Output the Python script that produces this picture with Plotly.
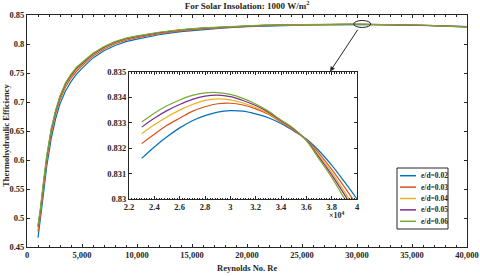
import plotly.graph_objects as go

# ---------------- data ----------------
reynolds = [1000, 1200, 1500, 1800, 2200, 2600, 3000, 3500, 4000, 4500, 5000,
            6000, 7000, 8000, 9000, 10000, 12000, 14000, 16000, 18000, 20000, 21500,
            23000, 24000, 25000, 26000, 27000, 28000, 29000, 30000, 31000, 32000,
            33000, 34000, 35000, 36000, 37000, 38000, 39000, 40000]

eff_002 = [0.466, 0.493, 0.542, 0.590, 0.637, 0.671, 0.697, 0.719, 0.735, 0.748, 0.7580,
           0.7760, 0.7885, 0.7975, 0.8040, 0.8085, 0.8160, 0.8212, 0.8250, 0.8278, 0.8298, 0.8309,
           0.83160, 0.83205, 0.83245, 0.83280, 0.83308, 0.83328, 0.83342, 0.83348, 0.83346, 0.83335,
           0.83320, 0.83297, 0.83268, 0.83236, 0.83190, 0.83133, 0.83068, 0.83000]
eff_003 = [0.477, 0.503, 0.552, 0.599, 0.645, 0.679, 0.704, 0.726, 0.741, 0.753, 0.7625,
           0.7795, 0.7915, 0.8005, 0.8068, 0.8110, 0.8178, 0.8227, 0.8262, 0.8287, 0.8305, 0.8315,
           0.83218, 0.83255, 0.83290, 0.83318, 0.83345, 0.83363, 0.83375, 0.83377, 0.83370, 0.83355,
           0.83334, 0.83302, 0.83271, 0.83234, 0.83180, 0.83117, 0.83048, 0.82975]
eff_004 = [0.482, 0.508, 0.557, 0.603, 0.649, 0.682, 0.707, 0.729, 0.744, 0.756, 0.7650,
           0.7815, 0.7935, 0.8022, 0.8083, 0.8125, 0.8190, 0.8237, 0.8270, 0.8293, 0.8310, 0.8320,
           0.83257, 0.83292, 0.83323, 0.83350, 0.83372, 0.83388, 0.83394, 0.83390, 0.83378, 0.83360,
           0.83337, 0.83305, 0.83274, 0.83233, 0.83172, 0.83105, 0.83030, 0.82950]
eff_005 = [0.485, 0.511, 0.560, 0.606, 0.651, 0.684, 0.709, 0.731, 0.746, 0.758, 0.7665,
           0.7828, 0.7945, 0.8032, 0.8092, 0.8133, 0.8197, 0.8243, 0.8275, 0.8297, 0.8313, 0.8323,
           0.83283, 0.83318, 0.83348, 0.83372, 0.83392, 0.83405, 0.83409, 0.83403, 0.83388, 0.83368,
           0.83342, 0.83308, 0.83276, 0.83232, 0.83165, 0.83095, 0.83018, 0.82935]
eff_006 = [0.488, 0.514, 0.563, 0.609, 0.654, 0.686, 0.711, 0.733, 0.748, 0.760, 0.7680,
           0.7840, 0.7955, 0.8040, 0.8100, 0.8140, 0.8203, 0.8248, 0.8279, 0.8300, 0.8316, 0.8325,
           0.83303, 0.83338, 0.83367, 0.83390, 0.83408, 0.83418, 0.83419, 0.83412, 0.83396, 0.83374,
           0.83346, 0.83311, 0.83278, 0.83230, 0.83158, 0.83085, 0.83003, 0.82920]

series_names = ["e/d=0.02", "e/d=0.03", "e/d=0.04", "e/d=0.05", "e/d=0.06"]
series_values = [eff_002, eff_003, eff_004, eff_005, eff_006]
series_colors = ["#0072BD", "#D95319", "#EDB120", "#7E2F8E", "#77AC30"]

inset_start_re = 23000
inset_tick_labels = ["2.2", "2.4", "2.6", "2.8", "3", "3.2", "3.4", "3.6", "3.8", "4"]

# ---------------- figure ----------------
FONT = "Liberation Serif"
W, H = 480, 277
ML, MR, MT, MB = 27, 13, 15, 30
PW, PH = W - ML - MR, H - MT - MB


def px_x(p):
    return (p - ML) / PW


def px_y(p):
    return (H - MB - p) / PH


fig = go.Figure()
i0 = reynolds.index(inset_start_re)
for name, vals, col in zip(series_names, series_values, series_colors):
    fig.add_trace(go.Scatter(x=reynolds, y=vals, mode="lines", name=name,
                             line=dict(color=col, width=1.2), showlegend=False,
                             xaxis="x", yaxis="y"))
for name, vals, col in zip(series_names, series_values, series_colors):
    fig.add_trace(go.Scatter(x=reynolds[i0:], y=vals[i0:], mode="lines", name=name,
                             line=dict(color=col, width=1.2, shape="spline"),
                             showlegend=False, xaxis="x2", yaxis="y2"))

axis_common = dict(showline=True, linecolor="#262626", linewidth=1, mirror="ticks",
                   ticks="inside", tickcolor="#262626", showgrid=False, zeroline=False,
                   automargin=False,
                   tickfont=dict(family=FONT, size=8.5, color="#262626", weight="bold"))

inset_tickvals = [float(t) * 1e4 for t in inset_tick_labels]

fig.update_layout(
    width=W, height=H,
    margin=dict(l=ML, r=MR, t=MT, b=MB),
    paper_bgcolor="white", plot_bgcolor="white",
    font=dict(family=FONT, color="#262626", weight="bold"),
    title=dict(text="For Solar Insolation: 1000 W/m<sup>2</sup>", x=px_x(247), xref="paper",
               xanchor="center", y=1 - 6 / H, yref="container", yanchor="middle",
               font=dict(family=FONT, size=9, color="#262626", weight="bold")),
    xaxis=dict(axis_common, range=[0, 40000], dtick=5000, tick0=0, tickformat=",",
               ticklen=3, domain=[0, 1],
               minor=dict(dtick=1000, ticks="inside", ticklen=2, tickcolor="#262626")),
    yaxis=dict(axis_common, range=[0.45, 0.85], dtick=0.05, tick0=0.45, ticklen=3,
               domain=[0, 1]),
    xaxis2=dict(axis_common, range=[22000, 40000], tickvals=inset_tickvals,
                ticktext=inset_tick_labels, ticklen=3, anchor="y2",
                domain=[px_x(129), px_x(357)],
                minor=dict(dtick=200, ticks="inside", ticklen=1.5, tickcolor="#262626")),
    yaxis2=dict(axis_common, range=[0.83, 0.835], dtick=0.001, tick0=0.83, ticklen=3,
                anchor="x2", domain=[px_y(199), px_y(72)]),
)

# axis titles
fig.add_annotation(x=px_x(247), y=px_y(268), xref="paper", yref="paper",
                   text="Reynolds No. Re", showarrow=False, xanchor="center", yanchor="middle",
                   font=dict(family=FONT, size=8.5, color="#262626", weight="bold"))
fig.add_annotation(x=px_x(6), y=px_y(136), xref="paper", yref="paper",
                   text="Thermohydraulic Efficiency", showarrow=False, textangle=-90,
                   xanchor="center", yanchor="middle",
                   font=dict(family=FONT, size=8.5, color="#262626", weight="bold"))

# ellipse highlighting the zoomed region
fig.add_shape(type="circle", xref="x", yref="y", x0=29700, x1=31250, y0=0.8285, y1=0.8405,
              line=dict(color="#262626", width=1))
# arrow to inset
fig.add_annotation(x=27550, y=0.7525, ax=30150, ay=0.8270, xref="x", yref="y",
                   axref="x", ayref="y", text="", showarrow=True, arrowhead=2,
                   arrowsize=1, arrowwidth=1, arrowcolor="#262626")
# x10^4 multiplier of inset
fig.add_annotation(x=px_x(347), y=px_y(222), xref="paper", yref="paper",
                   text="×10<sup>4</sup>", showarrow=False,
                   font=dict(family=FONT, size=8, color="#262626", weight="bold"))

# legend box (drawn to match the compact MATLAB legend)
lx0, lx1, ly0, ly1 = 397, 448, 168, 229
fig.add_shape(type="rect", xref="paper", yref="paper", x0=px_x(lx0), x1=px_x(lx1),
              y0=px_y(ly1), y1=px_y(ly0), line=dict(color="#262626", width=1),
              fillcolor="white", layer="above")
row_h = (ly1 - ly0 - 4) / len(series_names)
for k, (name, col) in enumerate(zip(series_names, series_colors)):
    yc = ly0 + 2 + row_h * (k + 0.5)
    fig.add_shape(type="line", xref="paper", yref="paper", x0=px_x(400), x1=px_x(416),
                  y0=px_y(yc), y1=px_y(yc), line=dict(color=col, width=1.5), layer="above")
    fig.add_annotation(x=px_x(419), y=px_y(yc), xref="paper", yref="paper", text=name,
                       showarrow=False, xanchor="left", yanchor="middle",
                       font=dict(family=FONT, size=7.5, color="#262626", weight="bold"))

fig.write_html("out.html", config={"displayModeBar": False},
               post_script="document.body.style.margin='0';document.body.style.padding='0';")
